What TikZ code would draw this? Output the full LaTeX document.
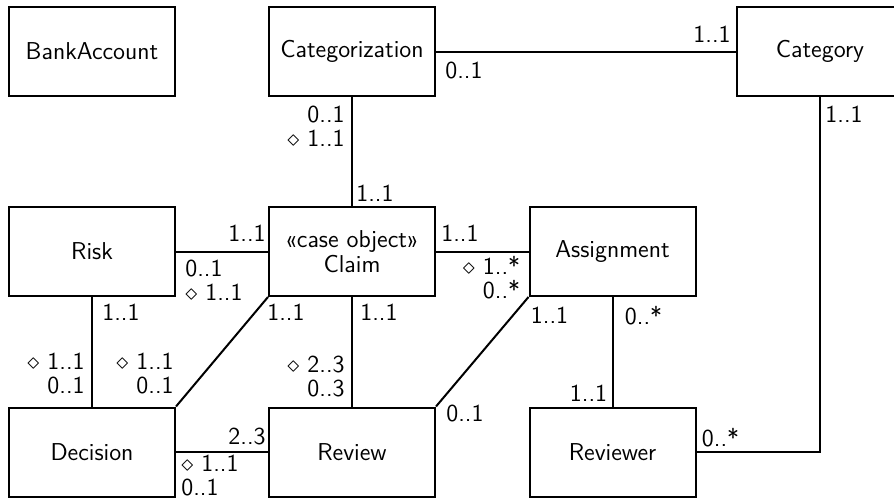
\documentclass[tikz,border=0pt]{standalone}
\usepackage{tikz}
\tikzset{
  cls/.style={draw, line width=1pt, minimum width=83pt, minimum height=44.5pt, inner sep=0pt,
    align=center, font=\sffamily\fontsize{12.2}{12.5}\selectfont},
  mult/.style={inner sep=0pt, font=\sffamily\fontsize{12.2}{12}\selectfont},
  assoc/.style={line width=1pt}
}
\begin{document}
\begin{tikzpicture}[x=0.5pt,y=-0.5pt]
	\useasboundingbox (0,0) rectangle (894,498);
	\node[cls] (bank) at (92,51.5) {BankAccount};
	\node[cls] (cz) at (352,51.5) {Categorization};
	\node[cls] (cat) at (820,51.5) {Category};
	\node[cls] (risk) at (92,251.5) {Risk};
	\node[cls] (claim) at (352,251.5) {«case object»\\Claim};
	\node[cls] (asg) at (612.5,251.5) {Assignment};
	\node[cls] (dec) at (92,452) {Decision};
	\node[cls] (rev) at (352,452) {Review};
	\node[cls] (rvr) at (612.5,452) {Reviewer};

	\draw[assoc] (cz) -- (cat);
	\draw[assoc] (cz) -- (claim);
	\draw[assoc] (risk) -- (claim);
	\draw[assoc] (claim) -- (asg);
	\draw[assoc] (risk) -- (dec);
	\draw[assoc] (claim.south west) -- (dec.north east);
	\draw[assoc] (claim) -- (rev);
	\draw[assoc] (dec) -- (rev);
	\draw[assoc] (asg.south west) -- (rev.north east);
	\draw[assoc] (asg) -- (rvr);
	\draw[assoc] (cat.south) |- (rvr.east);

	% multiplicities
	\node[mult, anchor=north west, xshift=4.5pt, yshift=-5pt] (czcat) at (cz.east) {0..1};
	\node[mult, anchor=south east, xshift=-2.5pt, yshift=4.5pt] (catcz) at (cat.west) {1..1};
	\node[mult, anchor=north east, align=right, xshift=-3.5pt, yshift=-4.5pt] (czclaim) at (cz.south) {0..1\\$\diamond$ 1..1};
	\node[mult, anchor=south west, xshift=2pt, yshift=2pt] (claimcz) at (claim.north) {1..1};
	\node[mult, anchor=south east, xshift=-1pt, yshift=5pt] (claimrisk) at (claim.west) {1..1};
	\node[mult, anchor=north west, align=left, xshift=4.5pt, yshift=-4pt] (riskclaim) at (risk.east) {0..1\\$\diamond$ 1..1};
	\node[mult, anchor=south west, xshift=2.5pt, yshift=5pt] (claimasg) at (claim.east) {1..1};
	\node[mult, anchor=north east, align=right, xshift=-4pt, yshift=-2pt] (asgclaim) at (asg.west) {$\diamond$ 1..*\\0..*};
	\node[mult, anchor=north west, xshift=5pt, yshift=-3.5pt] (riskdec) at (risk.south) {1..1};
	\node[mult, anchor=south east, align=right, xshift=-3.5pt, yshift=6pt] (decrisk) at (dec.north) {$\diamond$ 1..1\\0..1};
	\node[mult, anchor=north west, xshift=-0.5pt, yshift=-3.5pt] (claimdec) at (claim.south west) {1..1};
	\node[mult, anchor=south east, align=right, xshift=-1pt, yshift=6pt] (decclaim) at (dec.north east) {$\diamond$ 1..1\\0..1};
	\node[mult, anchor=north west, xshift=4pt, yshift=-3.5pt] (claimrev) at (claim.south) {1..1};
	\node[mult, anchor=south east, align=right, xshift=-3.5pt, yshift=4.5pt] (revclaim) at (rev.north) {$\diamond$ 2..3\\0..3};
	\node[mult, anchor=south east, xshift=-1pt, yshift=3.5pt] (revdec) at (rev.west) {2..3};
	\node[mult, anchor=north west, align=left, xshift=2.5pt, yshift=-1.5pt] (decrev) at (dec.east) {$\diamond$ 1..1\\0..1};
	\node[mult, anchor=north west, xshift=1pt, yshift=-5pt] (asgrev) at (asg.south west) {1..1};
	\node[mult, anchor=north west, xshift=5pt, yshift=1pt] (revasg) at (rev.north east) {0..1};
	\node[mult, anchor=north west, xshift=6pt, yshift=-4.5pt] (asgrvr) at (asg.south) {0..*};
	\node[mult, anchor=south east, xshift=-2.5pt, yshift=2.5pt] (rvrasg) at (rvr.north) {1..1};
	\node[mult, anchor=north west, xshift=2.5pt, yshift=-4.5pt] (catrvr) at (cat.south) {1..1};
	\node[mult, anchor=south west, xshift=2.5pt, yshift=2.5pt] (rvrcat) at (rvr.east) {0..*};
\end{tikzpicture}
\end{document}
